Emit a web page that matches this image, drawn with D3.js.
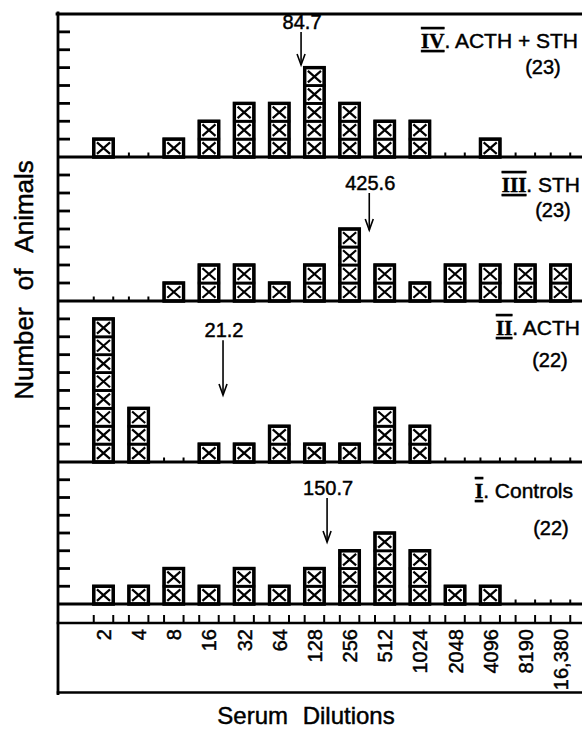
<!DOCTYPE html>
<html><head><meta charset="utf-8">
<script src="https://cdn.jsdelivr.net/npm/d3@7"></script>
<style>
body{margin:0;background:#fff}
svg text{font-family:"Liberation Sans",Arial,sans-serif;fill:#000;stroke:#000;stroke-width:0.45px}
</style>
</head><body>
<svg id="c" width="582" height="729"></svg>
<script>
// ---------- data ----------
const categories = ["2","4","8","16","32","64","128","256","512","1024","2048","4096","8190","16,380"];
const groupIV  = [1,0,1,2,3,3,5,3,2,2,0,1,0,0];
const groupIII = [0,0,1,2,2,1,2,4,2,1,2,2,2,2];
const groupII  = [8,3,0,1,1,2,1,1,3,2,0,0,0,0];
const groupI   = [1,1,2,1,2,1,2,3,4,3,1,1,0,0];
const panelNumerals = ["IV","III","II","I"];
const panelNames = ["ACTH + STH","STH","ACTH","Controls"];
const panelCounts = ["(23)","(23)","(22)","(22)"];
const meanLabels = ["84.7","425.6","21.2","150.7"];
// arrow position in category-index units
const meanPositions = [5.62, 7.56, 3.40, 6.36];
// arrow top / tip in animal units
const arrowTop = [7.0, 6.0, 6.8, 5.97];
const arrowTip = [5.15, 3.94, 3.74, 3.49];
const yMax = [8, 8, 9, 8];
const xTitle = "Serum Dilutions";
const yTitle = "Number of Animals";

// ---------- layout ----------
const W = 582, H = 729;
const left = 58, topY = 14, axisY = 623, bottomY = 692.5;
const panelBounds = [[14,157],[157,301],[301,462],[462,604]];
const labelY = [34, 35, 34, 36];      // offset from panel top
const countY = [60, 60, 66, 73];
const labelX = [578, 580, 580, 573];
const countX = [543, 553, 550, 551];
const bw = 19.5;

const svg = d3.select("#c");
const series = [groupIV, groupIII, groupII, groupI];

const x = d3.scalePoint().domain(categories).range([103.5, 560.5]);
const xi = d3.scaleLinear().domain([0, categories.length - 1]).range([103.5, 560.5]);

const g = svg.append("g").attr("stroke", "#000").attr("fill", "none").attr("stroke-linecap","square");

series.forEach((vals, p) => {
  const [pt, pb] = panelBounds[p];
  const y = d3.scaleLinear().domain([0, yMax[p]]).range([pb, pt]);
  const pg = svg.append("g");

  // small ticks on baseline at each slot edge
  categories.forEach(c => {
    [-bw/2, bw/2].forEach(dx => {
      pg.append("line").attr("x1", x(c)+dx).attr("x2", x(c)+dx)
        .attr("y1", pb).attr("y2", pb-4.5)
        .attr("stroke","#000").attr("stroke-width",2);
    });
  });

  // left y ticks
  d3.range(1, yMax[p]).forEach(t => {
    pg.append("line").attr("x1", left).attr("x2", left+12)
      .attr("y1", y(t)).attr("y2", y(t))
      .attr("stroke","#000").attr("stroke-width",2.8);
  });

  // bars made of boxes
  vals.forEach((v, i) => {
    if (!v) return;
    const cx = x(categories[i]);
    const x0 = cx - bw/2, x1 = cx + bw/2;
    for (let k = 0; k < v; k++) {
      const yb = y(k), yt = y(k+1);
      pg.append("rect").attr("x", x0).attr("y", yt).attr("width", bw).attr("height", yb-yt)
        .attr("fill","#fff").attr("stroke","#000").attr("stroke-width",2.8);
      const ins = 3.2;
      pg.append("path")
        .attr("d", `M${x0+ins},${yt+ins}L${x1-ins},${yb-ins}M${x1-ins},${yt+ins}L${x0+ins},${yb-ins}`)
        .attr("stroke","#000").attr("stroke-width",2.2).attr("fill","none");
    }
    pg.append("rect").attr("x", x0).attr("y", y(v)).attr("width", bw).attr("height", y(0)-y(v))
      .attr("fill","none").attr("stroke","#000").attr("stroke-width",3.4);
  });

  // baseline
  pg.append("line").attr("x1", left).attr("x2", W).attr("y1", pb).attr("y2", pb)
    .attr("stroke","#000").attr("stroke-width",2.8);

  // mean arrow
  const ax = xi(meanPositions[p]);
  const a0 = y(arrowTop[p]), a1 = y(arrowTip[p]);
  pg.append("line").attr("x1", ax).attr("x2", ax).attr("y1", a0).attr("y2", a1)
    .attr("stroke","#000").attr("stroke-width",1.6);
  pg.append("path").attr("d", `M${ax-4},${a1-11}L${ax},${a1}L${ax+4},${a1-11}`)
    .attr("stroke","#000").attr("stroke-width",1.6).attr("fill","none");
  pg.append("text").attr("x", ax+1).attr("y", a0-3).attr("text-anchor","middle")
    .attr("font-size", 20).text(meanLabels[p]);

  // panel label
  const t = pg.append("text").attr("x", labelX[p]).attr("y", pt + labelY[p])
    .attr("text-anchor","end").attr("font-size", 21);
  t.append("tspan").attr("font-family","'Liberation Serif',serif").attr("font-weight","bold")
    .style("text-decoration","underline overline").text(panelNumerals[p]);
  t.append("tspan").text(". " + panelNames[p]);
  pg.append("text").attr("x", countX[p]).attr("y", pt + countY[p])
    .attr("text-anchor","middle").attr("font-size", 20).text(panelCounts[p]);
});

// frame
g.append("line").attr("x1", left-1).attr("x2", W).attr("y1", topY).attr("y2", topY).attr("stroke-width",2.8);
g.append("line").attr("x1", left).attr("x2", left).attr("y1", topY-1).attr("y2", bottomY+1).attr("stroke-width",2.8);
g.append("line").attr("x1", left).attr("x2", W).attr("y1", axisY).attr("y2", axisY).attr("stroke-width",2.6);
g.append("line").attr("x1", left).attr("x2", W).attr("y1", bottomY).attr("y2", bottomY).attr("stroke-width",2.6);

// bottom axis ticks
categories.forEach(c => {
  [-bw/2, bw/2].forEach(dx => {
    g.append("line").attr("x1", x(c)+dx).attr("x2", x(c)+dx)
      .attr("y1", axisY).attr("y2", axisY-7).attr("stroke-width",2);
  });
});

// category labels
svg.append("g").selectAll("text").data(categories).join("text")
  .attr("transform", d => `translate(${x(d)+7.5},629) rotate(-90)`)
  .attr("text-anchor","end").attr("font-size", 20).text(d => d);

// titles
svg.append("text").attr("x", 306).attr("y", 724).attr("text-anchor","middle")
  .attr("font-size", 24).attr("word-spacing", 8).text(xTitle);
svg.append("text").attr("transform","translate(33,280) rotate(-90)").attr("text-anchor","middle")
  .attr("font-size", 26).attr("word-spacing", 10).text(yTitle);
</script>
</body></html>
